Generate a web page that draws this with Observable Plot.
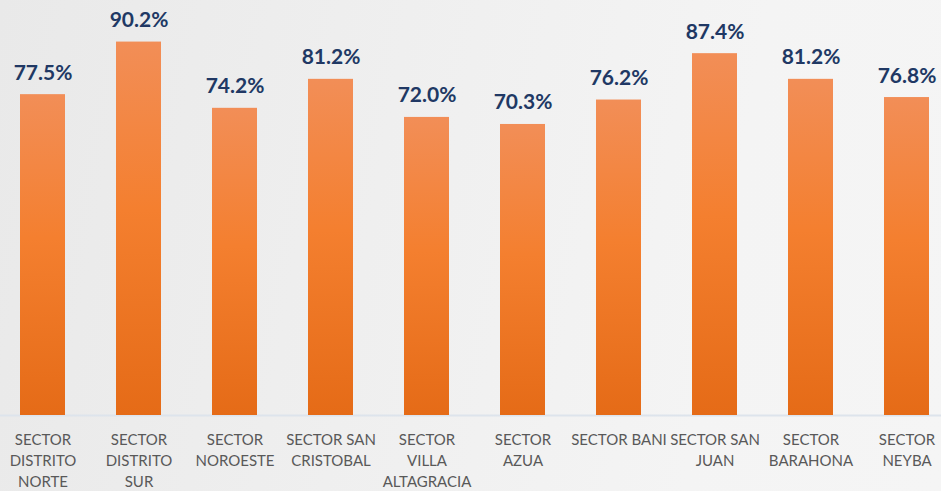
<!DOCTYPE html>
<html>
<head>
<meta charset="utf-8">
<script src="https://cdn.jsdelivr.net/npm/d3@7"></script>
<script src="https://cdn.jsdelivr.net/npm/@observablehq/plot@0.6"></script>
<style>
  html, body { margin: 0; padding: 0; }
  body {
    width: 941px; height: 491px; overflow: hidden;
    background: linear-gradient(100deg, #e9e9e9 0%, #efefef 40%, #f4f4f4 75%, #f5f5f5 100%);
  }
  #chart svg { display: block; background: transparent; }
</style>
</head>
<body>
<div id="chart"></div>
<script>
const categories = [
  "SECTOR DISTRITO NORTE", "SECTOR DISTRITO SUR", "SECTOR NOROESTE",
  "SECTOR SAN CRISTOBAL", "SECTOR VILLA ALTAGRACIA", "SECTOR AZUA",
  "SECTOR BANI", "SECTOR SAN JUAN", "SECTOR BARAHONA", "SECTOR NEYBA"
];
const values = [77.5, 90.2, 74.2, 81.2, 72.0, 70.3, 76.2, 87.4, 81.2, 76.8];
const tickLabels = [
  "SECTOR\nDISTRITO\nNORTE", "SECTOR\nDISTRITO\nSUR", "SECTOR\nNOROESTE",
  "SECTOR SAN\nCRISTOBAL", "SECTOR\nVILLA\nALTAGRACIA", "SECTOR\nAZUA",
  "SECTOR BANI", "SECTOR SAN\nJUAN", "SECTOR\nBARAHONA", "SECTOR\nNEYBA"
];

const data = categories.map((c, i) => ({category: c, value: values[i], label: tickLabels[i]}));
const labelOf = new Map(data.map(d => [d.category, d.label]));

const plot = Plot.plot({
  width: 941,
  height: 491,
  marginTop: 0,
  marginBottom: 76,
  marginLeft: 0,
  marginRight: 0,
  style: {fontFamily: "Lato, 'Open Sans', sans-serif", color: "#595959", background: "transparent"},
  x: {domain: categories, range: [-6.6, 955.1], paddingInner: 0.53, paddingOuter: 0.265, axis: null, label: null},
  y: {domain: [0, 100], range: [415, 1], axis: null},
  marks: [
    Plot.ruleY([0], {stroke: "#dde4ec", strokeWidth: 2}),
    Plot.barY(data, {x: "category", y: "value", fill: "url(#barGrad)"}),
    Plot.text(data, {
      x: "category", y: "value", text: d => d.value.toFixed(1) + "%",
      lineAnchor: "bottom", dy: -15, fill: "#203864",
      fontSize: 21, fontWeight: "bold"
    }),
    Plot.axisX({
      domain: categories, tickSize: 0, tickPadding: 15, fontSize: 15, lineHeight: 1.4,
      tickFormat: c => labelOf.get(c), fill: "#595959", label: null
    })
  ]
});

const ns = "http://www.w3.org/2000/svg";
const defs = document.createElementNS(ns, "defs");
defs.innerHTML = `
  <linearGradient id="barGrad" x1="0" y1="0" x2="0" y2="1">
    <stop offset="0" stop-color="#f28e57"/>
    <stop offset="0.45" stop-color="#f47f2f"/>
    <stop offset="1" stop-color="#e56b17"/>
  </linearGradient>`;
plot.insertBefore(defs, plot.firstChild);
document.getElementById("chart").appendChild(plot);
</script>
</body>
</html>
